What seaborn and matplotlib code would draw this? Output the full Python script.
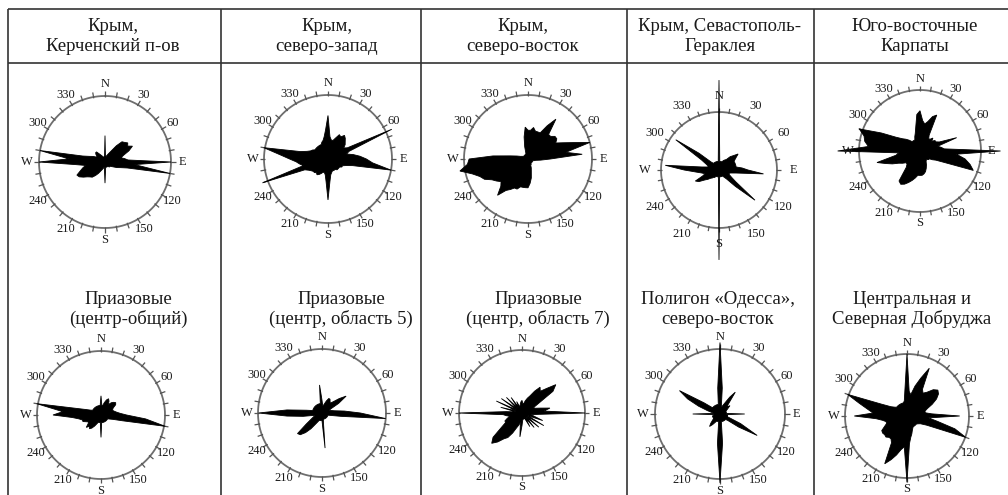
import numpy as np
import pandas as pd
import matplotlib
matplotlib.use("Agg")
import matplotlib.pyplot as plt
import seaborn as sns

# Regions (two-line titles)
regions = [
    "Крым,\nКерченский п-ов",
    "Крым,\nсеверо-запад",
    "Крым,\nсеверо-восток",
    "Крым, Севастополь-\nГераклея",
    "Юго-восточные\nКарпаты",
    "Приазовые\n(центр-общий)",
    "Приазовые\n(центр, область 5)",
    "Приазовые\n(центр, область 7)",
    "Полигон «Одесса»,\nсеверо-восток",
    "Центральная и\nСеверная Добруджа",
]

# Azimuths of the rose rays, degrees (every 5°)
directions = np.arange(0, 360, 5)

# Relative ray lengths (1 = rim of the diagram), 0°..355° in rows of 60°
kerch = [
    0.40, 0.08, 0.08, 0.10, 0.12, 0.15, 0.20, 0.30, 0.40, 0.42, 0.45, 0.42,
    0.48, 0.40, 0.30, 0.25, 0.30, 0.35, 1.00, 0.45, 1.00, 0.35, 0.25, 0.20,
    0.15, 0.12, 0.10, 0.10, 0.10, 0.08, 0.08, 0.08, 0.08, 0.08, 0.08, 0.10,
    0.32, 0.10, 0.08, 0.10, 0.12, 0.15, 0.20, 0.25, 0.30, 0.32, 0.35, 0.40,
    0.45, 0.47, 0.40, 0.35, 0.30, 0.45, 1.00, 0.55, 1.00, 0.35, 0.25, 0.20,
    0.15, 0.15, 0.18, 0.20, 0.20, 0.15, 0.12, 0.10, 0.08, 0.08, 0.08, 0.08,
]
crimea_nw = [
    0.68, 0.35, 0.30, 0.30, 0.35, 0.42, 0.40, 0.45, 0.42, 0.38, 0.35, 0.30,
    0.35, 1.10, 0.35, 0.30, 0.40, 0.50, 0.60, 0.70, 1.00, 0.40, 0.30, 0.25,
    0.25, 0.22, 0.22, 0.22, 0.22, 0.20, 0.20, 0.20, 0.20, 0.22, 0.25, 0.35,
    0.64, 0.35, 0.25, 0.22, 0.22, 0.25, 0.28, 0.30, 0.28, 0.30, 0.30, 0.32,
    0.35, 0.40, 1.09, 0.40, 0.45, 0.50, 0.60, 0.75, 1.02, 0.45, 0.35, 0.30,
    0.28, 0.25, 0.25, 0.25, 0.25, 0.25, 0.25, 0.25, 0.28, 0.30, 0.35, 0.45,
]
crimea_ne = [
    0.45, 0.45, 0.50, 0.45, 0.45, 0.45, 0.60, 0.76, 0.50, 0.50, 0.55, 0.55,
    0.50, 0.60, 0.75, 1.00, 0.60, 0.85, 0.35, 0.20, 0.12, 0.10, 0.08, 0.08,
    0.08, 0.08, 0.08, 0.08, 0.08, 0.08, 0.10, 0.10, 0.15, 0.20, 0.30, 0.38,
    0.45, 0.45, 0.45, 0.45, 0.50, 0.50, 0.55, 0.60, 0.74, 0.60, 0.55, 0.60,
    0.65, 0.75, 0.80, 0.90, 1.08, 0.95, 0.92, 0.55, 0.28, 0.18, 0.12, 0.10,
    0.08, 0.08, 0.08, 0.08, 0.08, 0.08, 0.08, 0.08, 0.10, 0.20, 0.35, 0.50,
]
sevastopol = [
    1.55, 0.15, 0.15, 0.15, 0.15, 0.18, 0.20, 0.22, 0.30, 0.35, 0.43, 0.35,
    0.30, 0.30, 0.30, 0.30, 0.30, 0.40, 0.50, 0.77, 0.30, 0.20, 0.18, 0.20,
    0.25, 0.35, 0.81, 0.40, 0.20, 0.15, 0.12, 0.12, 0.12, 0.12, 0.12, 0.12,
    1.55, 0.12, 0.12, 0.12, 0.12, 0.12, 0.15, 0.15, 0.18, 0.20, 0.25, 0.30,
    0.40, 0.45, 0.30, 0.25, 0.30, 0.40, 0.60, 0.93, 0.30, 0.20, 0.20, 0.25,
    0.35, 0.91, 0.45, 0.20, 0.15, 0.15, 0.15, 0.15, 0.15, 0.15, 0.15, 0.15,
]
carpathians = [
    0.66, 0.50, 0.45, 0.50, 0.60, 0.65, 0.30, 0.25, 0.25, 0.30, 0.25, 0.30,
    0.30, 0.35, 0.64, 0.30, 0.35, 0.40, 1.32, 0.60, 0.75, 0.85, 0.93, 0.45,
    0.30, 0.25, 0.20, 0.20, 0.18, 0.18, 0.20, 0.25, 0.30, 0.35, 0.38, 0.40,
    0.40, 0.40, 0.45, 0.50, 0.55, 0.60, 0.63, 0.60, 0.35, 0.30, 0.30, 0.35,
    0.40, 0.50, 0.60, 0.73, 0.40, 0.35, 1.35, 0.85, 0.92, 0.95, 1.06, 0.70,
    0.45, 0.35, 0.30, 0.25, 0.20, 0.20, 0.20, 0.20, 0.25, 0.30, 0.40, 0.60,
]
azov_all = [
    0.30, 0.15, 0.15, 0.20, 0.25, 0.28, 0.25, 0.20, 0.25, 0.28, 0.30, 0.28,
    0.22, 0.20, 0.20, 0.22, 0.25, 0.30, 0.40, 0.70, 1.02, 0.35, 0.20, 0.15,
    0.12, 0.12, 0.12, 0.12, 0.12, 0.12, 0.12, 0.12, 0.12, 0.12, 0.12, 0.12,
    0.35, 0.12, 0.12, 0.12, 0.12, 0.15, 0.20, 0.25, 0.28, 0.25, 0.30, 0.25,
    0.22, 0.25, 0.30, 0.30, 0.35, 0.45, 0.75, 0.60, 1.02, 0.40, 0.25, 0.18,
    0.15, 0.15, 0.15, 0.15, 0.15, 0.15, 0.15, 0.15, 0.15, 0.15, 0.15, 0.15,
]
azov_5 = [
    0.20, 0.12, 0.12, 0.15, 0.20, 0.25, 0.25, 0.22, 0.20, 0.25, 0.35, 0.46,
    0.30, 0.15, 0.12, 0.15, 0.20, 0.35, 0.60, 1.00, 0.30, 0.15, 0.10, 0.10,
    0.10, 0.10, 0.10, 0.10, 0.10, 0.10, 0.10, 0.10, 0.10, 0.10, 0.12, 0.55,
    0.12, 0.12, 0.12, 0.12, 0.12, 0.15, 0.20, 0.30, 0.40, 0.48, 0.50, 0.30,
    0.20, 0.15, 0.12, 0.15, 0.30, 0.55, 0.99, 0.55, 0.25, 0.15, 0.15, 0.15,
    0.15, 0.15, 0.15, 0.15, 0.15, 0.15, 0.15, 0.15, 0.15, 0.15, 0.15, 0.44,
]
azov_7 = [
    0.20, 0.15, 0.15, 0.20, 0.25, 0.30, 0.40, 0.50, 0.45, 0.55, 0.70, 0.60,
    0.30, 0.20, 0.22, 0.30, 0.45, 0.35, 1.00, 0.25, 0.15, 0.20, 0.35, 0.10,
    0.40, 0.10, 0.35, 0.10, 0.30, 0.10, 0.25, 0.08, 0.10, 0.10, 0.10, 0.12,
    0.20, 0.38, 0.15, 0.20, 0.25, 0.35, 0.45, 0.50, 0.60, 0.68, 0.60, 0.40,
    0.30, 0.30, 0.25, 0.20, 0.25, 0.30, 1.00, 0.25, 0.10, 0.35, 0.10, 0.45,
    0.10, 0.40, 0.10, 0.35, 0.10, 0.30, 0.10, 0.20, 0.10, 0.12, 0.15, 0.18,
]
odessa = [
    1.10, 0.40, 0.12, 0.12, 0.15, 0.20, 0.30, 0.41, 0.20, 0.15, 0.20, 0.15,
    0.12, 0.10, 0.10, 0.10, 0.10, 0.10, 0.38, 0.10, 0.12, 0.12, 0.12, 0.35,
    0.66, 0.35, 0.15, 0.12, 0.12, 0.12, 0.12, 0.12, 0.12, 0.12, 0.12, 0.45,
    1.06, 0.45, 0.12, 0.12, 0.12, 0.12, 0.15, 0.20, 0.25, 0.20, 0.15, 0.12,
    0.12, 0.12, 0.12, 0.12, 0.10, 0.10, 0.42, 0.10, 0.12, 0.20, 0.35, 0.55,
    0.72, 0.30, 0.15, 0.15, 0.15, 0.15, 0.15, 0.15, 0.15, 0.15, 0.15, 0.40,
]
dobruja = [
    1.00, 0.40, 0.35, 0.50, 0.65, 0.85, 0.50, 0.45, 0.50, 0.60, 0.65, 0.62,
    0.55, 0.45, 0.35, 0.30, 0.30, 0.40, 0.85, 0.35, 0.50, 0.80, 1.01, 0.35,
    0.25, 0.22, 0.20, 0.20, 0.20, 0.20, 0.20, 0.22, 0.25, 0.30, 0.35, 0.45,
    1.07, 0.50, 0.55, 0.65, 0.75, 0.85, 0.50, 0.45, 0.45, 0.48, 0.47, 0.48,
    0.47, 0.40, 0.35, 0.35, 0.40, 0.50, 0.85, 0.55, 0.65, 0.80, 1.02, 0.45,
    0.30, 0.25, 0.22, 0.22, 0.22, 0.22, 0.22, 0.22, 0.22, 0.22, 0.25, 0.40,
]
rose_lengths = [kerch, crimea_nw, crimea_ne, sevastopol, carpathians,
                azov_all, azov_5, azov_7, odessa, dobruja]

# Compass labels around each diagram
compass_angles = [0, 30, 60, 90, 120, 150, 180, 210, 240, 270, 300, 330]
compass_labels = ["N", "30", "60", "E", "120", "150", "S", "210", "240", "W", "300", "330"]

df = pd.concat(
    [pd.DataFrame({"region": reg, "direction": directions, "radius": vals})
     for reg, vals in zip(regions, rose_lengths)],
    ignore_index=True,
)

sns.set_theme(style="white")
plt.rcParams["font.family"] = ["Liberation Serif", "DejaVu Serif"]

W, H = 1008, 495


def draw_rose(data, **kws):
    ax = plt.gca()
    th = np.deg2rad(data["direction"].to_numpy())
    r = data["radius"].to_numpy()
    ax.fill(np.append(th, th[0]), np.append(r, r[0]),
            facecolor="black", edgecolor="black", lw=0.6, zorder=3)


g = sns.FacetGrid(df, col="region", col_wrap=5, col_order=regions,
                  subplot_kws={"projection": "polar"}, sharex=False, sharey=False,
                  despine=False, height=2.4, aspect=0.84)
g.map_dataframe(draw_rose)
fig = g.figure
fig.set_size_inches(W / 100, H / 100)
fig.set_dpi(100)

# Layout of each diagram: centre (px) and rim radius (px)
layout = [
    (105, 162, 66), (328, 159, 64), (528, 159, 64), (719, 170, 58), (920, 151, 61),
    (101, 415, 64), (322, 413, 64), (522, 413, 63), (720, 414, 65), (907, 416, 62),
]
title_x = [113, 327, 523, 720, 915, 128, 341, 538, 718, 912]
title_base = [31, 31, 31, 31, 31, 304, 304, 304, 304, 304]

RMAX = 1.7
rim = np.linspace(0, 2 * np.pi, 361)
tick_th = np.deg2rad(np.arange(0, 360, 10))

for ax, (cx, cy, R) in zip(g.axes.flat, layout):
    h = RMAX * R
    ax.set_position([(cx - h) / W, 1 - (cy + h) / H, 2 * h / W, 2 * h / H])
    ax.set_theta_zero_location("N")
    ax.set_theta_direction(-1)
    ax.set_title("")
    ax.set_xlabel("")
    ax.set_ylabel("")
    ax.grid(False)
    ax.set_xticks([])
    ax.set_yticks([])
    ax.spines["polar"].set_visible(False)
    ax.patch.set_alpha(0)
    ax.plot(rim, np.ones_like(rim), color="#6e6e6e", lw=1.3, zorder=2)
    ax.vlines(tick_th, 0.98, 1.07, color="#555555", lw=0.9, zorder=2)
    lab_r = 1.28 if R < 60 else 1.18
    for a, lab in zip(compass_angles, compass_labels):
        ax.text(np.deg2rad(a), lab_r, lab, ha="center", va="center",
                fontsize=9, color="#1a1a1a", zorder=4)
    ax.set_ylim(0, RMAX)

# Table frame and headings
bg = fig.add_axes([0, 0, 1, 1], zorder=-1)
bg.set_xlim(0, W)
bg.set_ylim(H, 0)
bg.axis("off")
bg.hlines([9, 63], 8, W, color="#333333", lw=1.2)
bg.vlines([8, 221, 421, 627, 814], 9, H, color="#333333", lw=1.2)
for reg, tx, ty in zip(regions, title_x, title_base):
    for k, line in enumerate(reg.split("\n")):
        bg.text(tx, ty + 20 * k, line, ha="center", va="baseline",
                fontsize=13.5, color="#1a1a1a")

fig.savefig("out.png", dpi=100)
